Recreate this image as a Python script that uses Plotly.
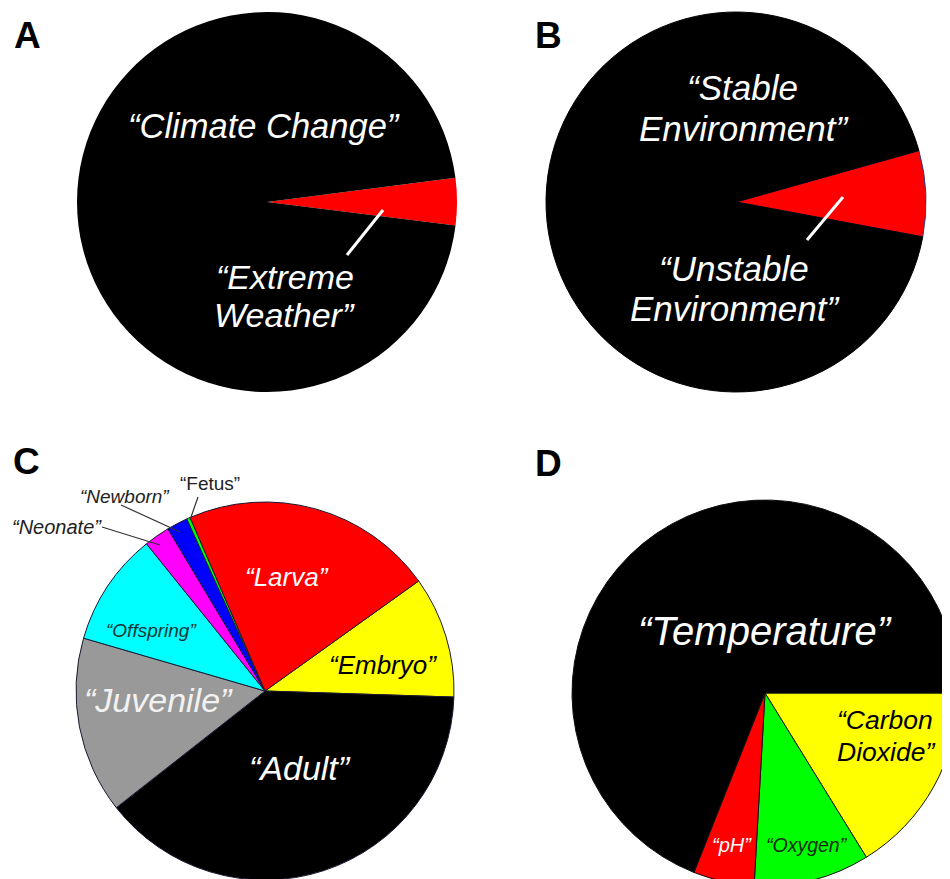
import plotly.graph_objects as go

W, H = 950, 879
OFF = 8  # page body margin offset of the rendered figure

# ---------------- data ----------------
a_labels = ["Extreme Weather", "Climate Change"]
a_values = [4.0, 96.0]
a_colors = ["#FF0000", "#000000"]

b_labels = ["Unstable Environment", "Stable Environment"]
b_values = [7.3, 92.7]
b_colors = ["#FF0000", "#000000"]

c_labels = ["Embryo", "Adult", "Juvenile", "Offspring", "Neonate", "Newborn", "Fetus", "Larva"]
c_values = [10.4, 38.9, 15.1, 9.7, 2.2, 1.8, 0.3, 21.6]
c_colors = ["#FFFF00", "#000000", "#999999", "#00FFFF", "#FF00FF", "#0000FF", "#00FF00", "#FF0000"]

d_labels = ["Carbon Dioxide", "Oxygen", "pH", "Temperature"]
d_values = [16.2, 9.7, 5.1, 69.0]
d_colors = ["#FFFF00", "#00FF00", "#FF0000", "#000000"]

FONT = "Liberation Sans, Arial, sans-serif"


def px_x(x):
    return (x - OFF) / W


def px_y(y):
    return 1 - (y - OFF) / H


def dom(x0, x1, y0, y1):
    return dict(x=[max(0, px_x(x0)), min(1, px_x(x1))],
                y=[max(0, px_y(y1)), min(1, px_y(y0))])


fig = go.Figure()

fig.add_trace(go.Pie(
    labels=a_labels, values=a_values, sort=False, direction="clockwise",
    rotation=82.7, marker=dict(colors=a_colors, line=dict(width=0)),
    textinfo="none", textposition="none", hoverinfo="label+percent",
    domain=dom(77, 457, 12, 392), showlegend=False))

fig.add_trace(go.Pie(
    labels=b_labels, values=b_values, sort=False, direction="clockwise",
    rotation=74.3,
    marker=dict(colors=b_colors, line=dict(color=["#2a3a8a", "#000000"], width=1)),
    textinfo="none", textposition="none", hoverinfo="label+percent",
    domain=dom(546, 926, 12, 392), showlegend=False))

fig.add_trace(go.Pie(
    labels=c_labels, values=c_values, sort=False, direction="clockwise",
    rotation=54.4, marker=dict(colors=c_colors, line=dict(color="#1a1a33", width=1)),
    textinfo="none", textposition="none", hoverinfo="label+percent",
    domain=dom(76, 454, 502, 880), showlegend=False))

fig.add_trace(go.Pie(
    labels=d_labels, values=d_values, sort=False, direction="clockwise",
    rotation=90, marker=dict(colors=d_colors, line=dict(color="#111111", width=1)),
    textinfo="none", textposition="none", hoverinfo="label+percent",
    domain=dom(572, 958, 500, 886), showlegend=False))

annotations = []


def label(text, x, y, size, color, italic=True, bold=False):
    annotations.append(dict(
        text=text, x=px_x(x), y=px_y(y), xref="paper", yref="paper",
        xanchor="center", yanchor="middle", showarrow=False,
        font=dict(family=FONT, size=size, color=color,
                  style="italic" if italic else "normal",
                  weight=700 if bold else 400)))


# panel letters
label("A", 27, 36, 37, "#000000", italic=False, bold=True)
label("B", 548, 36, 37, "#000000", italic=False, bold=True)
label("C", 26, 461, 37, "#000000", italic=False, bold=True)
label("D", 548, 463, 37, "#000000", italic=False, bold=True)

# panel A
label("\u201cClimate Change\u201d", 264, 126, 34.5, "#FFFFFF")
label("\u201cExtreme", 285, 277, 34, "#FFFFFF")
label("Weather\u201d", 284, 315, 34, "#FFFFFF")

# panel B
label("\u201cStable", 742, 87, 35, "#FFFFFF")
label("Environment\u201d", 743, 128, 35, "#FFFFFF")
label("\u201cUnstable", 734, 268, 35, "#FFFFFF")
label("Environment\u201d", 734, 308, 35, "#FFFFFF")

# panel C
label("\u201cLarva\u201d", 287, 577, 26, "#FFFFFF")
label("\u201cEmbryo\u201d", 383, 665, 26, "#000000")
label("\u201cJuvenile\u201d", 158, 700, 34, "#F2F2F2")
label("\u201cAdult\u201d", 300, 768, 34, "#FFFFFF")
label("\u201cOffspring\u201d", 151, 630, 19, "#123838")
label("\u201cNeonate\u201d", 57, 527, 20, "#222222")
label("\u201cNewborn\u201d", 125, 497, 19, "#222222")
label("\u201cFetus\u201d", 210, 483, 19, "#222222", italic=False)

# panel D
label("\u201cTemperature\u201d", 765, 631, 40, "#FFFFFF")
label("\u201cCarbon", 885, 720, 26.5, "#000000")
label("Dioxide\u201d", 886, 752, 26.5, "#000000")
label("\u201cpH\u201d", 732, 845, 20, "#FFFFFF")
label("\u201cOxygen\u201d", 807, 845, 19.5, "#0b2a0b")

shapes = []


def leader(x0, y0, x1, y1, color, width):
    shapes.append(dict(type="line", xref="paper", yref="paper",
                       x0=px_x(x0), y0=px_y(y0), x1=px_x(x1), y1=px_y(y1),
                       line=dict(color=color, width=width)))


leader(383, 210, 347, 255, "#FFFFFF", 3)
leader(843, 197, 807, 240, "#FFFFFF", 3)
leader(102, 527, 160, 545, "#333333", 1.2)
leader(121, 505, 180, 532, "#333333", 1.2)
leader(198, 497, 190, 520, "#333333", 1.2)

fig.update_layout(
    width=W, height=H, margin=dict(l=0, r=0, t=0, b=0),
    paper_bgcolor="#FFFFFF", plot_bgcolor="#FFFFFF",
    showlegend=False, annotations=annotations, shapes=shapes,
    font=dict(family=FONT))

fig.write_html("out.html")
